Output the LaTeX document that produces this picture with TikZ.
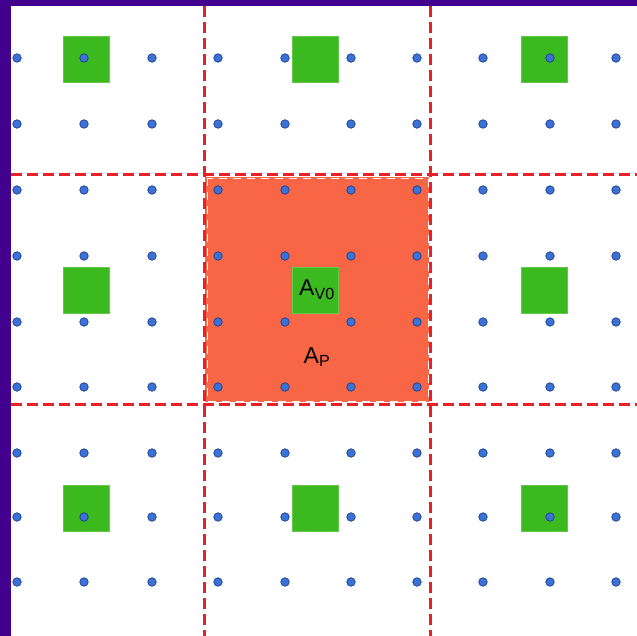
\documentclass[tikz,border=0pt]{standalone}
\usepackage{fontspec}
\setmainfont{Liberation Sans}
\definecolor{purp}{HTML}{42008F}
\definecolor{grn}{HTML}{3BB91E}
\definecolor{orng}{HTML}{F96646}
\definecolor{dotfill}{HTML}{3A72D6}
\definecolor{dotline}{HTML}{1E3E8C}
\definecolor{redline}{HTML}{E8202A}
\tikzset{
  cellline/.style={draw=redline, line width=3pt, dash pattern=on 11pt off 5pt},
  greensq/.style={fill=grn, draw=grn!80!white, line width=0.6pt},
  latticept/.style={circle, fill=dotfill, draw=dotline, line width=0.7pt, minimum size=8.5pt, inner sep=0pt},
  lbl/.style={font=\fontsize{23}{27}\selectfont, inner sep=0pt}
}
\begin{document}
\begin{tikzpicture}[x=1pt,y=-1pt]
\useasboundingbox (0,0) rectangle (637,636);
\fill[white] (0,0) rectangle (637,636);
\fill[purp] (0,0) rectangle (637,6);
\fill[purp] (0,0) rectangle (11,636);
% central cell
\fill[orng] (205,177) rectangle (429,402);
\draw[white, line width=0.8pt, dash pattern=on 8pt off 6pt] (207,178) rectangle (428,401);
% green squares
\foreach \cx/\cy in {86/59, 315/59, 544/59, 86/290, 315/290, 544/290, 86/508, 315/508, 544/508}{
  \filldraw[greensq] (\cx-23,\cy-23) rectangle (\cx+23,\cy+23);
}
% cell boundaries
\draw[cellline] (204,6) -- (204,640);
\draw[cellline] (430,6) -- (430,640);
\draw[cellline] (11,175) -- (640,175);
\draw[cellline] (11,404) -- (640,404);
% lattice points
\foreach \py in {58,124,190,256,322,387,453,517,582}{
  \foreach \px in {17,84,152,218,285,351,417,483,550,616}{
    \node[latticept] at (\px,\py) {};
  }
}
% labels
\node[lbl] (av) at (317,290) {A\textsubscript{V0}};
\node[lbl] (ap) at (317,357) {A\textsubscript{P}};
\end{tikzpicture}
\end{document}
